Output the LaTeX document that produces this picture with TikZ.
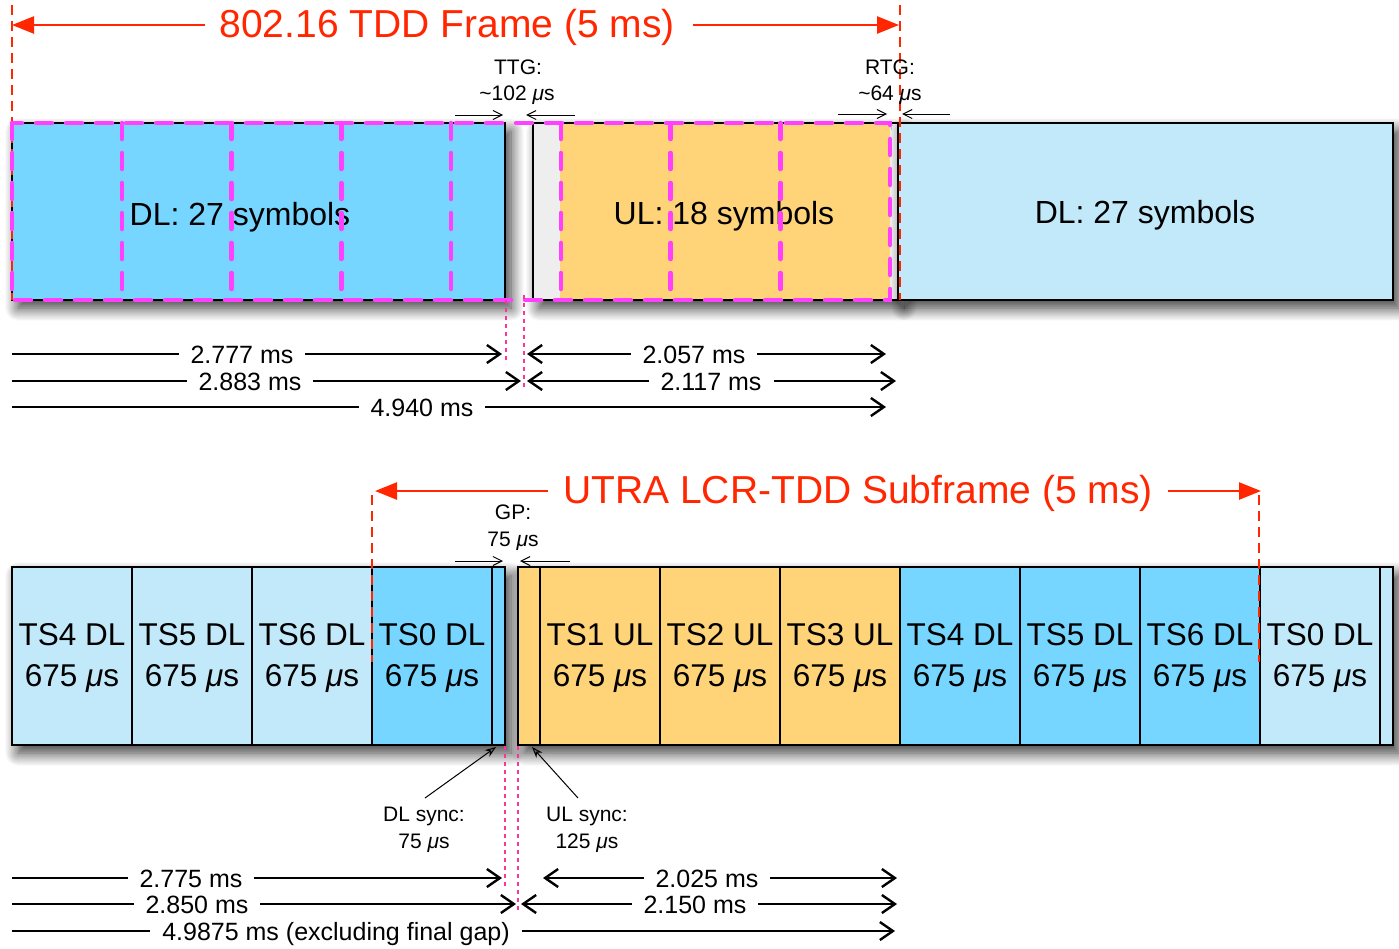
\documentclass[tikz,border=0pt]{standalone}
\usepackage{fontspec}
\setmainfont{Liberation Sans}
\usetikzlibrary{arrows.meta,shadows.blur}
\definecolor{dlmed}{RGB}{118,214,255}
\definecolor{dllight}{RGB}{194,233,250}
\definecolor{ulor}{RGB}{255,212,121}
\definecolor{redt}{RGB}{255,38,0}
\definecolor{magd}{RGB}{255,64,255}
\definecolor{pinkd}{RGB}{255,51,153}
\definecolor{gapg}{RGB}{238,238,238}
\begin{document}
\begin{tikzpicture}[x=1pt,y=-1pt,
  boxline/.style={draw=black,line width=2.2pt,inner sep=0pt,outer sep=0pt},
  topbox/.style={boxline,minimum height=177pt,anchor=north west},
  cell/.style={boxline,minimum height=178pt},
  shad/.style={blur shadow={shadow xshift=6pt,shadow yshift=-8pt,shadow blur radius=13pt,shadow blur steps=12,shadow opacity=80}},
  big/.style={font=\fontsize{31.5}{41}\selectfont,align=center,inner sep=0pt},
  mid/.style={font=\fontsize{32}{38}\selectfont,anchor=base,inner sep=0pt},
  small/.style={font=\fontsize{21}{27}\selectfont,anchor=base,inner sep=0pt},
  lab/.style={font=\fontsize{25}{30}\selectfont,anchor=base,fill=white,inner xsep=12pt,inner ysep=2pt},
  titletext/.style={font=\fontsize{39}{45}\selectfont,text=redt,anchor=base,inner sep=0pt},
  titlearrow/.style={draw=redt,line width=2.5pt,-{Triangle[length=22pt,width=17pt]}},
  redash/.style={draw=redt,line width=2pt,dash pattern=on 10pt off 6pt},
  magdash/.style={draw=magd,line width=4.5pt,line cap=round,dash pattern=on 16pt off 14pt},
  pinkdot/.style={draw=pinkd,line width=2.4pt,dash pattern=on 4pt off 4pt},
  meas/.style={line width=2.4pt,-{Straight Barb[length=13pt,width=18pt,line width=2.4pt]}},
  measb/.style={line width=2.4pt,{Straight Barb[length=13pt,width=18pt,line width=2.4pt]}-{Straight Barb[length=13pt,width=18pt,line width=2.4pt]}},
  gaparrow/.style={line width=1pt,-{Straight Barb[length=9pt,width=9pt,line width=1pt]}},
  syncarrow/.style={line width=1pt,-{Stealth[length=11pt,width=8pt]}}
]
\useasboundingbox (0,0) rectangle (1399,948);

% ================= TOP: 802.16 frame =================
\node[topbox,fill=dlmed,shad,minimum width=493pt] (dlA) at (12,123) {};
\node[topbox,fill=gapg,shad,minimum width=365pt] (ulA) at (533,123) {};
\fill[ulor] (560,124.1) rectangle (890,298.9);
\node[topbox,fill=dllight,shad,minimum width=495pt] (dlB) at (898,123) {};

\node[mid] (tdl1) at (240,225) {DL: 27 symbols};
\node[mid] (tul) at (724,224) {UL: 18 symbols};
\node[mid] (tdl2) at (1145,223) {DL: 27 symbols};

% red frame limits
\coordinate (rf1a) at (12,5);   \coordinate (rf1b) at (12,300);
\coordinate (rf2a) at (900,5);  \coordinate (rf2b) at (900,300);
\draw[redash] (rf1a) -- (rf1b);
\draw[redash] (rf2a) -- (rf2b);

% magenta symbol grid
\draw[magdash] (12,123) rectangle (890,300);
\foreach \i in {1,...,7}{
  \draw[magdash] ({12+109.75*\i},123) -- ({12+109.75*\i},300);
}

% title
\node[titletext] (ttlA) at (447,37) {802.16 TDD Frame (5 ms)};
\coordinate (tA1) at (205,25); \coordinate (tA2) at (12,25);
\coordinate (tB1) at (693,25); \coordinate (tB2) at (899,25);
\draw[titlearrow] (tA1) -- (tA2);
\draw[titlearrow] (tB1) -- (tB2);

% TTG / RTG
\node[small] (ttg1) at (518,74) {TTG:};
\node[small] (ttg2) at (517,100) {\textasciitilde102 {\itshape μ}s};
\node[small] (rtg1) at (890,74) {RTG:};
\node[small] (rtg2) at (890,100) {\textasciitilde64 {\itshape μ}s};
\coordinate (g1a) at (455,115); \coordinate (g1b) at (503,115);
\coordinate (g2a) at (575,115); \coordinate (g2b) at (526,115);
\coordinate (g3a) at (838,114); \coordinate (g3b) at (887,114);
\coordinate (g4a) at (950,114); \coordinate (g4b) at (902,114);
\draw[gaparrow] (g1a) -- (g1b);
\draw[gaparrow] (g2a) -- (g2b);
\draw[gaparrow] (g3a) -- (g3b);
\draw[gaparrow] (g4a) -- (g4b);

% pink dotted markers (top)
\coordinate (p1a) at (506,300); \coordinate (p1b) at (506,364);
\coordinate (p2a) at (524,295); \coordinate (p2b) at (524,388);
\draw[pinkdot] (p1a) -- (p1b);
\draw[pinkdot] (p2a) -- (p2b);

% measurements (top)
\coordinate (m1a) at (12,354);  \coordinate (m1b) at (502,354);
\coordinate (m2a) at (527,354); \coordinate (m2b) at (886,354);
\coordinate (m3a) at (12,381);  \coordinate (m3b) at (521,381);
\coordinate (m4a) at (527,381); \coordinate (m4b) at (896,381);
\coordinate (m5a) at (12,407);  \coordinate (m5b) at (886,407);
\draw[meas] (m1a) -- (m1b);
\draw[measb] (m2a) -- (m2b);
\draw[meas] (m3a) -- (m3b);
\draw[measb] (m4a) -- (m4b);
\draw[meas] (m5a) -- (m5b);
\node[lab] (l1) at (242,363) {2.777 ms};
\node[lab] (l2) at (694,363) {2.057 ms};
\node[lab] (l3) at (250,390) {2.883 ms};
\node[lab] (l4) at (711,390) {2.117 ms};
\node[lab] (l5) at (422,416) {4.940 ms};

% ================= BOTTOM: UTRA LCR-TDD =================
\path[fill=white,shad] (12,567) rectangle (505,745);
\path[fill=white,shad] (518,567) rectangle (1393,745);
\node[cell,fill=dllight,minimum width=120pt] (c1) at (72,656) {};
\node[cell,fill=dllight,minimum width=120pt] (c2) at (192,656) {};
\node[cell,fill=dllight,minimum width=120pt] (c3) at (312,656) {};
\node[cell,fill=dlmed,minimum width=120pt] (c4) at (432,656) {};
\node[cell,fill=dlmed,minimum width=13pt] (cdls) at (498.5,656) {};
\node[cell,fill=ulor,minimum width=22pt] (culs) at (529,656) {};
\node[cell,fill=ulor,minimum width=120pt] (c5) at (600,656) {};
\node[cell,fill=ulor,minimum width=120pt] (c6) at (720,656) {};
\node[cell,fill=ulor,minimum width=120pt] (c7) at (840,656) {};
\node[cell,fill=dlmed,minimum width=120pt] (c8) at (960,656) {};
\node[cell,fill=dlmed,minimum width=120pt] (c9) at (1080,656) {};
\node[cell,fill=dlmed,minimum width=120pt] (c10) at (1200,656) {};
\node[cell,fill=dllight,minimum width=120pt] (c11) at (1320,656) {};
\node[cell,fill=dllight,minimum width=13pt] (cdls2) at (1386.5,656) {};

\node[big] (t1) at (72,658) {TS4 DL\\675 {\itshape μ}s};
\node[big] (t2) at (192,658) {TS5 DL\\675 {\itshape μ}s};
\node[big] (t3) at (312,658) {TS6 DL\\675 {\itshape μ}s};
\node[big] (t4) at (432,658) {TS0 DL\\675 {\itshape μ}s};
\node[big] (t5) at (600,658) {TS1 UL\\675 {\itshape μ}s};
\node[big] (t6) at (720,658) {TS2 UL\\675 {\itshape μ}s};
\node[big] (t7) at (840,658) {TS3 UL\\675 {\itshape μ}s};
\node[big] (t8) at (960,658) {TS4 DL\\675 {\itshape μ}s};
\node[big] (t9) at (1080,658) {TS5 DL\\675 {\itshape μ}s};
\node[big] (t10) at (1200,658) {TS6 DL\\675 {\itshape μ}s};
\node[big] (t11) at (1320,658) {TS0 DL\\675 {\itshape μ}s};

% red subframe limits
\coordinate (rf3a) at (372,495);  \coordinate (rf3b) at (372,662);
\coordinate (rf4a) at (1259,495); \coordinate (rf4b) at (1259,662);
\draw[redash] (rf3a) -- (rf3b);
\draw[redash] (rf4a) -- (rf4b);

% title
\node[titletext] (ttlB) at (858,503) {UTRA LCR-TDD Subframe (5 ms)};
\coordinate (tC1) at (548,491);  \coordinate (tC2) at (375,491);
\coordinate (tD1) at (1168,491); \coordinate (tD2) at (1261,491);
\draw[titlearrow] (tC1) -- (tC2);
\draw[titlearrow] (tD1) -- (tD2);

% GP
\node[small] (gp1) at (513,519) {GP:};
\node[small] (gp2) at (513,546) {75 {\itshape μ}s};
\coordinate (g5a) at (455,561); \coordinate (g5b) at (503,561);
\coordinate (g6a) at (570,561); \coordinate (g6b) at (520,561);
\draw[gaparrow] (g5a) -- (g5b);
\draw[gaparrow] (g6a) -- (g6b);

% sync annotations
\node[small] (dls1) at (424,821) {DL sync:};
\node[small] (dls2) at (424,848) {75 {\itshape μ}s};
\node[small] (uls1) at (587,821) {UL sync:};
\node[small] (uls2) at (587,848) {125 {\itshape μ}s};
\coordinate (s1a) at (425,798); \coordinate (s1b) at (496,747);
\coordinate (s2a) at (578,798); \coordinate (s2b) at (532,747);
\draw[syncarrow] (s1a) -- (s1b);
\draw[syncarrow] (s2a) -- (s2b);

% pink dotted markers (bottom)
\coordinate (p3a) at (505,746); \coordinate (p3b) at (505,887);
\coordinate (p4a) at (518,746); \coordinate (p4b) at (518,913);
\draw[pinkdot] (p3a) -- (p3b);
\draw[pinkdot] (p4a) -- (p4b);

% measurements (bottom)
\coordinate (n1a) at (12,878);  \coordinate (n1b) at (502,878);
\coordinate (n2a) at (543,878); \coordinate (n2b) at (897,878);
\coordinate (n3a) at (12,904);  \coordinate (n3b) at (516,904);
\coordinate (n4a) at (521,904); \coordinate (n4b) at (897,904);
\coordinate (n5a) at (12,931);  \coordinate (n5b) at (895,931);
\draw[meas] (n1a) -- (n1b);
\draw[measb] (n2a) -- (n2b);
\draw[meas] (n3a) -- (n3b);
\draw[measb] (n4a) -- (n4b);
\draw[meas] (n5a) -- (n5b);
\node[lab] (k1) at (191,887) {2.775 ms};
\node[lab] (k2) at (707,887) {2.025 ms};
\node[lab] (k3) at (197,913) {2.850 ms};
\node[lab] (k4) at (695,913) {2.150 ms};
\node[lab] (k5) at (336,940) {4.9875 ms (excluding final gap)};
\end{tikzpicture}
\end{document}
